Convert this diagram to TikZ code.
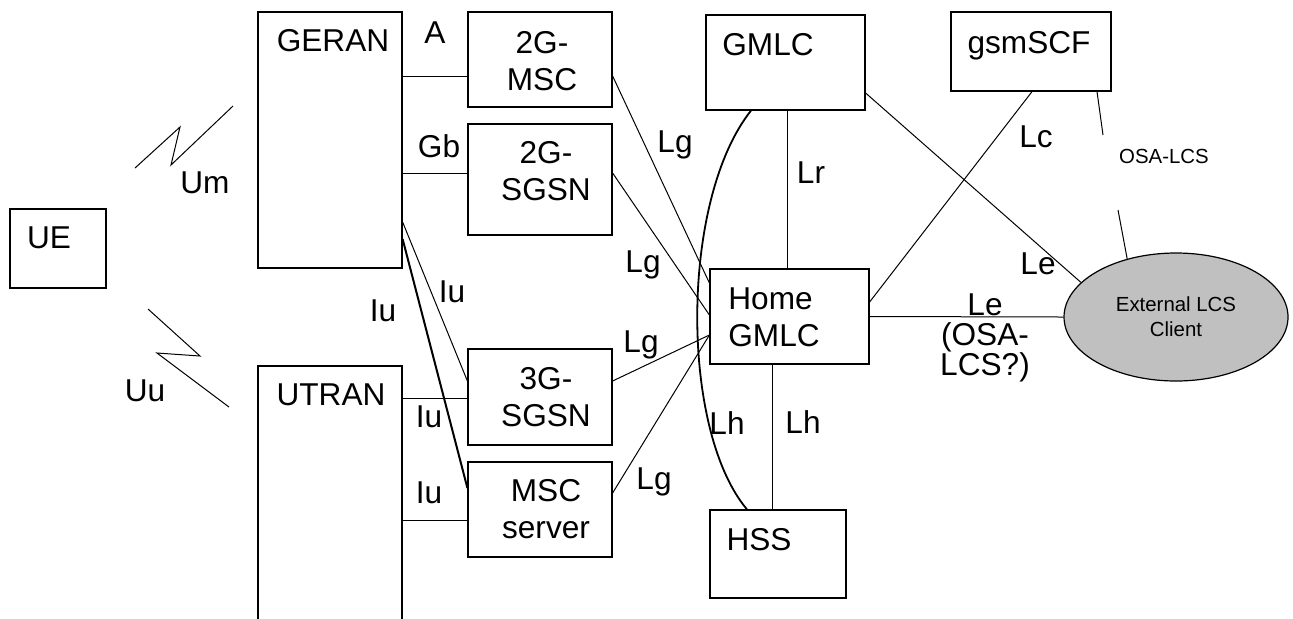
\documentclass[tikz,border=0pt]{standalone}
\usepackage{fontspec}
\setmainfont{Liberation Sans}
\usetikzlibrary{fit,shapes.geometric}
\definecolor{clientgray}{RGB}{192,192,192}
\begin{document}
\begin{tikzpicture}[x=0.5pt, y=-0.5pt,
    box/.style={draw, inner sep=0pt, line width=0.6pt},
    lbl/.style={inner sep=0pt, align=center, font=\fontsize{15.8}{18.3}\selectfont},
    small/.style={inner sep=0pt, align=center, font=\fontsize{10.2}{12.5}\selectfont},
    link/.style={line width=0.5pt}]
    \useasboundingbox (0,0) rectangle (1293,618);
    \clip (0,0) rectangle (1293,618);
    % network elements
    \node [box, fit={(10,209) (106,288)}] (ue) {};
    \node [box, fit={(258,12) (402,268)}] (geran) {};
    \node [box, fit={(258,366) (402,640)}] (utran) {};
    \node [box, fit={(468,12) (612,107)}] (msc2g) {};
    \node [box, fit={(468,124) (612,235)}] (sgsn2g) {};
    \node [box, fit={(468,349) (612,445)}] (sgsn3g) {};
    \node [box, fit={(468,462) (612,557)}] (mscs) {};
    \node [box, fit={(706,15) (865,110)}] (gmlc) {};
    \node [box, fit={(951,12) (1111,91)}] (gsmscf) {};
    \node [box, fit={(710,269) (869,364)}] (home) {};
    \node [box, fit={(710,510) (846,598)}] (hss) {};
    \node [ellipse, draw, fill=clientgray, line width=0.6pt, minimum width=112pt, minimum height=64pt, small] (ext) at (1176,317) {External LCS\\Client};
    \node [lbl] (uelbl) at (49,238) {UE};
    \node [lbl] (geranlbl) at (333,41) {GERAN};
    \node [lbl] (utranlbl) at (331,395) {UTRAN};
    \node [lbl] (msc2glbl) at (542,61) {2G-\\MSC};
    \node [lbl] (sgsn2glbl) at (546,171) {2G-\\SGSN};
    \node [lbl] (sgsn3glbl) at (546,397) {3G-\\SGSN};
    \node [lbl] (mscslbl) at (546,509) {MSC\\server};
    \node [lbl] (gmlclbl) at (768,45) {GMLC};
    \node [lbl] (gsmscflbl) at (1029,46) {gsmSCF};
    \node [lbl, align=left, anchor=west] (homelbl) at (728,317) {Home\\GMLC};
    \node [lbl] (hsslbl) at (759,540) {HSS};
    % radio links
    \draw [link] (135,168) -- (180,127) -- (171,165) -- (233,106);
    \draw [link] (148,309) -- (200,356) -- (157,353) -- (229,407);
    \node [lbl] (umlbl) at (205,183) {Um};
    \node [lbl] (uulbl) at (145,391) {Uu};
    % interfaces
    \draw [link] (geran.east |- 0,76) -- (msc2g.west |- 0,76);
    \draw [link] (geran.east |- 0,173) -- (sgsn2g.west |- 0,173);
    \draw [link] (geran.east |- 0,222) -- (sgsn3g.west |- 0,381);
    \draw [line width=1pt] (geran.east |- 0,239) -- (mscs.west |- 0,488);
    \draw [link] (utran.east |- 0,398) -- (sgsn3g.west |- 0,398);
    \draw [link] (utran.east |- 0,520) -- (mscs.west |- 0,520);
    \draw [link] (msc2g.east |- 0,76) -- (home.west |- 0,283);
    \draw [link] (sgsn2g.east |- 0,173) -- (home.west |- 0,315);
    \draw [link] (sgsn3g.east |- 0,381) -- (home.west |- 0,335);
    \draw [link] (mscs.east |- 0,493) -- (home.west |- 0,335);
    \draw [link] (gmlc.south -| 787,0) -- (home.north -| 787,0);
    \draw [link] (home.south -| 772,0) -- (hss.north -| 772,0);
    \draw [line width=0.9pt] (gmlc.south -| 751,0) .. controls (680,200) and (680,430) .. (hss.north -| 747,0);
    \draw [link] (gmlc.east |- 0,93) -- (ext.160);
    \draw [link] (gsmscf.south -| 1032,0) -- (home.east |- 0,302);
    \draw [link] (home.east) -- (ext.west);
    \coordinate (osaend) at (1103,135);
    \coordinate (osabeg) at (1118,210);
    \draw [link] (gsmscf.south -| 1097,0) -- (osaend);
    \draw [link] (osabeg) -- (ext.130);
    % interface labels
    \node [lbl] (alb) at (435,33) {A};
    \node [lbl] (gblb) at (439,146) {Gb};
    \node [lbl] (iulb1) at (452,292) {Iu};
    \node [lbl] (iulb2) at (383,311) {Iu};
    \node [lbl] (iulb3) at (429,417) {Iu};
    \node [lbl] (iulb4) at (429,493) {Iu};
    \node [lbl] (lglb1) at (675,145) {Lg};
    \node [lbl] (lglb2) at (643,265) {Lg};
    \node [lbl] (lglb3) at (641,345) {Lg};
    \node [lbl] (lglb4) at (654,482) {Lg};
    \node [lbl] (lrlb) at (811,173) {Lr};
    \node [lbl] (lclb) at (1036,137) {Lc};
    \node [lbl] (lelb1) at (1038,264) {Le};
    \node [lbl, anchor=north, font=\fontsize{15.8}{15}\selectfont] (lelb2) at (985,293) {Le\\(OSA-\\LCS?)};
    \node [small] (osalb) at (1164,156) {OSA-LCS};
    \node [lbl] (lhlb1) at (727,423) {Lh};
    \node [lbl] (lhlb2) at (803,422) {Lh};
\end{tikzpicture}
\end{document}
